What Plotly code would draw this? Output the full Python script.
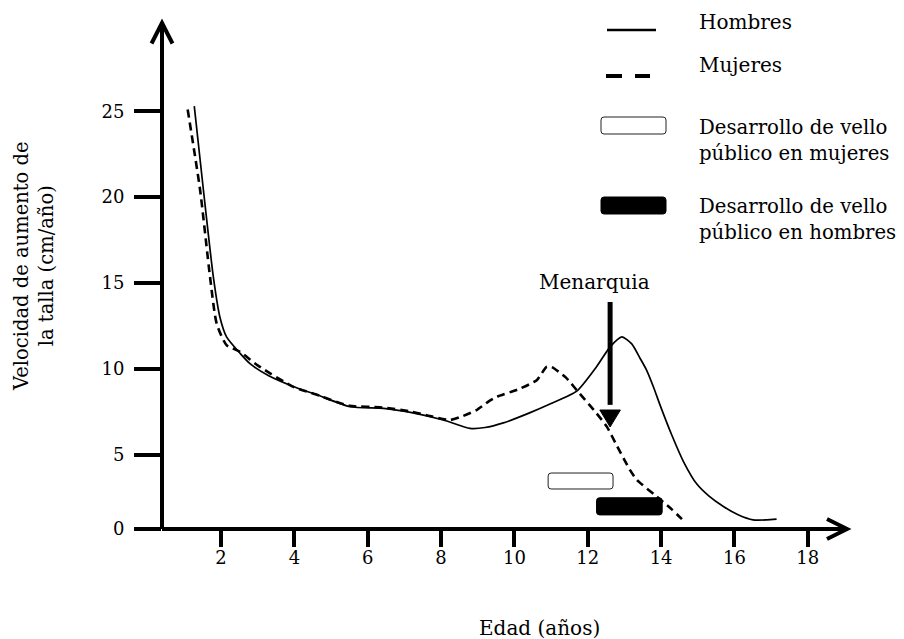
import plotly.graph_objects as go

# ---------------- data ----------------
edad_hombres = [1.27, 1.52, 1.79, 1.97, 2.15, 2.52, 2.79, 3.3, 4.06, 4.6, 5.52, 6.43, 7.2, 8.06,
                8.79, 9.2, 9.7, 10.43, 10.97, 11.7, 12.24, 12.61, 12.93, 13.2, 13.43, 13.61,
                13.8, 13.97, 14.3, 14.61, 14.97, 15.3, 15.7, 16.1, 16.51, 16.88, 17.15]
vel_hombres = [25.3, 20.4, 15.35, 13.0, 11.86, 10.9, 10.3, 9.6, 8.9, 8.5, 7.79, 7.7, 7.45, 7.02,
               6.53, 6.58, 6.85, 7.45, 7.95, 8.7, 10.12, 11.28, 11.86, 11.45, 10.6, 9.9,
               8.9, 7.9, 6.1, 4.6, 3.3, 2.6, 1.98, 1.5, 1.2, 1.2, 1.24]

edad_mujeres = [1.09, 1.43, 1.7, 1.88, 2.15, 2.52, 3.0, 3.97, 4.6, 5.5, 6.4, 7.2, 7.7, 8.24,
                8.6, 8.97, 9.3, 9.52, 10.1, 10.61, 10.88, 11.02, 11.4, 11.7, 12.24, 12.52,
                12.8, 13.15, 13.34, 13.88, 14.3, 14.65]
vel_mujeres = [25.1, 20.4, 15.35, 12.64, 11.38, 10.99, 10.2, 8.95, 8.5, 7.85, 7.75, 7.5, 7.25, 7.02,
               7.25, 7.6, 8.1, 8.37, 8.8, 9.34, 10.12, 10.1, 9.5, 8.76, 7.41, 6.63,
               5.5, 4.11, 3.53, 2.56, 1.8, 1.07]

x_ticks = [2, 4, 6, 8, 10, 12, 14, 16, 18]
y_ticks = [5, 10, 15, 20, 25]
y_tick_labels = ["5", "10", "15", "20", "25"]

vello_mujeres = [10.92, 12.69]   # age range
vello_hombres = [12.24, 14.03]   # age range
menarquia_edad = 12.61

# ---------------- layout geometry ----------------
W, H = 904, 639
BODY = 8                       # browser body margin offsets the figure
SL, SR, ST, SB = 162, 847, 23, 529   # plot area edges in screen pixels
X_RANGE = [0.39, 19.07]
Y_RANGE = [0.67, 30.14]
FONT = "DejaVu Serif"


def fx(px):
    return (px - SL) / (SR - SL)


def fy(py):
    return (SB - py) / (SB - ST)


fig = go.Figure()

fig.add_trace(go.Scatter(x=edad_hombres, y=vel_hombres, mode="lines", name="Hombres",
                         line=dict(color="black", width=1.7, shape="spline", smoothing=0.6),
                         showlegend=False))
fig.add_trace(go.Scatter(x=edad_mujeres, y=vel_mujeres, mode="lines", name="Mujeres",
                         line=dict(color="black", width=2.6, dash="8px,5px", shape="spline",
                                   smoothing=0.6),
                         showlegend=False))

shapes = []


def rounded_rect(x0, x1, y0, y1, rx, ry):
    return (f"M{x0+rx},{y0} L{x1-rx},{y0} Q{x1},{y0} {x1},{y0+ry} L{x1},{y1-ry} "
            f"Q{x1},{y1} {x1-rx},{y1} L{x0+rx},{y1} Q{x0},{y1} {x0},{y1-ry} "
            f"L{x0},{y0+ry} Q{x0},{y0} {x0+rx},{y0} Z")


# pubic hair bars (data coordinates)
rx, ry = 3 / 36.67, 3 / 17.17
shapes.append(dict(type="path", xref="x", yref="y",
                   path=rounded_rect(vello_mujeres[0], vello_mujeres[1], 3.0, 3.93, rx, ry),
                   fillcolor="white", line=dict(color="#222", width=1)))
shapes.append(dict(type="path", xref="x", yref="y",
                   path=rounded_rect(vello_hombres[0], vello_hombres[1], 1.49, 2.49, rx, ry),
                   fillcolor="black", line=dict(color="black", width=1)))

# menarche arrow
shapes.append(dict(type="line", xref="x", yref="y", x0=menarquia_edad, x1=menarquia_edad,
                   y0=13.89, y1=7.9, line=dict(color="black", width=5)))
shapes.append(dict(type="path", xref="x", yref="y",
                   path=f"M{menarquia_edad-0.28},7.6 L{menarquia_edad+0.28},7.6 L{menarquia_edad},6.61 Z",
                   fillcolor="black", line=dict(color="black", width=1)))

# axis lines
shapes.append(dict(type="line", xref="paper", yref="paper", x0=0, x1=1, y0=0, y1=0,
                   line=dict(color="black", width=4)))
shapes.append(dict(type="line", xref="paper", yref="paper", x0=0, x1=0, y0=0, y1=1,
                   line=dict(color="black", width=4)))
# axis arrowheads
shapes.append(dict(type="path", xref="paper", yref="paper",
                   path=f"M{fx(151.5)},{fy(43.5)} L{fx(162)},{fy(23)} L{fx(172.5)},{fy(43.5)}",
                   line=dict(color="black", width=4)))
shapes.append(dict(type="path", xref="paper", yref="paper",
                   path=f"M{fx(827)},{fy(519)} L{fx(847)},{fy(529)} L{fx(827)},{fy(539)}",
                   line=dict(color="black", width=4)))

# legend symbols
shapes.append(dict(type="line", xref="paper", yref="paper", x0=fx(607), x1=fx(656),
                   y0=fy(30), y1=fy(30), line=dict(color="black", width=2.7)))
shapes.append(dict(type="line", xref="paper", yref="paper", x0=fx(606), x1=fx(622),
                   y0=fy(76), y1=fy(76), line=dict(color="black", width=4)))
shapes.append(dict(type="line", xref="paper", yref="paper", x0=fx(635), x1=fx(650),
                   y0=fy(76), y1=fy(76), line=dict(color="black", width=4)))
shapes.append(dict(type="path", xref="paper", yref="paper",
                   path=rounded_rect(fx(601), fx(666), fy(134), fy(117), 3 / 685, 3 / 506),
                   fillcolor="white", line=dict(color="#222", width=1)))
shapes.append(dict(type="path", xref="paper", yref="paper",
                   path=rounded_rect(fx(601), fx(666), fy(214), fy(197), 3 / 685, 3 / 506),
                   fillcolor="black", line=dict(color="black", width=1)))

annotations = []


def txt(text, x, y, size=20, xanchor="left", **kw):
    annotations.append(dict(text=text, x=fx(x), y=fy(y), xref="paper", yref="paper",
                            xanchor=xanchor, yanchor="middle", showarrow=False,
                            font=dict(family=FONT, size=size, color="black"), **kw))


txt("Hombres", 697, 22)
txt("Mujeres", 697, 65)
txt("Desarrollo de vello<br>público en mujeres", 697, 140, size=19.7, align="left")
txt("Desarrollo de vello<br>público en hombres", 697, 219, size=19.7, align="left")
txt("Menarquia", 594, 282, xanchor="center")
txt("Edad (años)", 539, 628, xanchor="center")
txt("Velocidad de aumento de<br>la talla (cm/año)", 34, 266, size=19.5, xanchor="center",
    textangle=-90, align="center")

fig.update_layout(
    width=W, height=H,
    margin=dict(l=SL - BODY, r=W - (SR - BODY), t=ST - BODY, b=H - (SB - BODY)),
    paper_bgcolor="white", plot_bgcolor="white",
    shapes=shapes, annotations=annotations,
    font=dict(family=FONT, color="black"),
    xaxis=dict(range=X_RANGE, showgrid=False, zeroline=False, showline=False,
               ticks="outside", ticklen=17, tickwidth=4, ticklabelstandoff=-5,
               tickcolor="black", tickvals=x_ticks, tickfont=dict(family=FONT, size=18)),
    yaxis=dict(range=Y_RANGE, showgrid=False, zeroline=False, showline=False,
               ticks="outside", ticklen=27, tickwidth=4,
               tickcolor="black", tickvals=[Y_RANGE[0]] + y_ticks,
               ticktext=["0"] + y_tick_labels, ticklabelstandoff=6,
               tickfont=dict(family=FONT, size=18)),
)

fig.write_html("out.html")
